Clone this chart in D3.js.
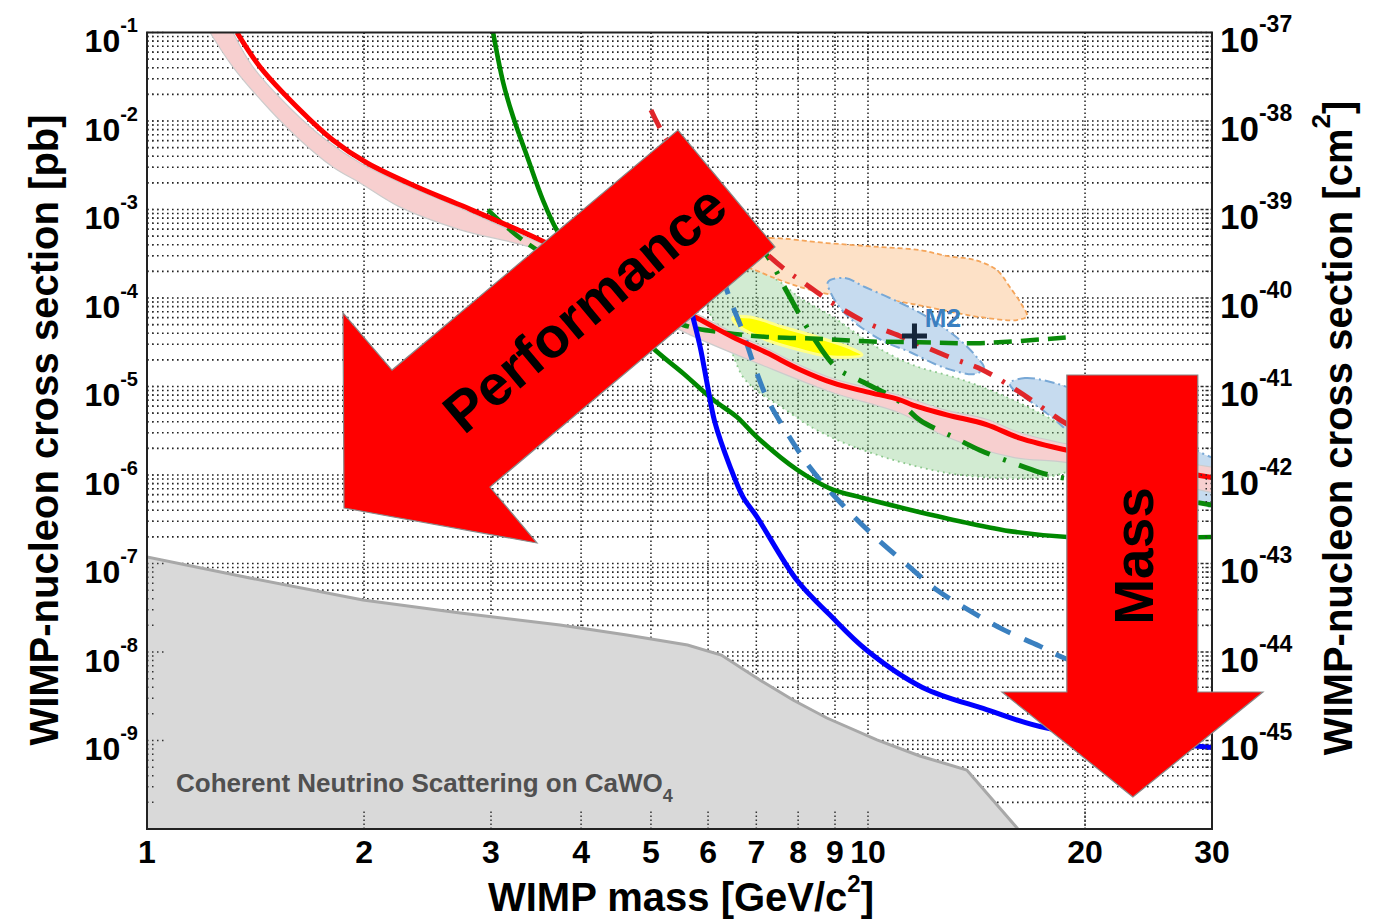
<!DOCTYPE html>
<html><head><meta charset="utf-8">
<script src="https://cdn.jsdelivr.net/npm/d3@7"></script>
<style>
body{margin:0;background:#fff}
text{font-family:"Liberation Sans",Arial,Helvetica,sans-serif;font-weight:bold}
</style>
</head><body>
<svg id="c" width="1381" height="923"></svg>
<script>
// ---------------- DATA (mass in GeV/c^2, log10 of cross section in pb) ----------------
const xTickLabels=[1,2,3,4,5,6,7,8,9,10,20,30];
const yLeftExp=[-1,-2,-3,-4,-5,-6,-7,-8,-9];
const yRightExp=[-37,-38,-39,-40,-41,-42,-43,-44,-45];

const redLimit=[[1.333,-1.0],[1.435,-1.39],[1.63,-1.876],[1.81,-2.215],[2.02,-2.475],[2.37,-2.746],[2.72,-2.95],[3.51,-3.345],[4.5,-3.78],[5.79,-4.226],[6.49,-4.44],[7.24,-4.62],[8.05,-4.81],[8.94,-4.96],[9.96,-5.06],[11.07,-5.15],[11.54,-5.21],[12.86,-5.32],[14.6,-5.43],[16.2,-5.58],[18.9,-5.72],[30,-6.03]];
const bandUpper=[[1.316,-1.0],[1.403,-1.39],[1.589,-1.876],[1.771,-2.215],[1.975,-2.475],[2.316,-2.746],[2.657,-2.949],[3.508,-3.379],[4.5,-3.74],[5.79,-4.18],[6.49,-4.39],[7.24,-4.57],[8.05,-4.76],[8.94,-4.91],[9.96,-5.01],[11.07,-5.10],[12.86,-5.27],[14.6,-5.37],[16.2,-5.52],[18.9,-5.65],[30,-5.91]];
const bandLower=[[1.223,-1.0],[1.316,-1.39],[1.481,-1.876],[1.63,-2.215],[1.81,-2.52],[1.975,-2.70],[2.24,-2.97],[2.72,-3.23],[3.56,-3.48],[4.5,-3.96],[5.48,-4.36],[7.24,-4.78],[8.94,-5.07],[11.07,-5.30],[12.86,-5.57],[15.9,-5.80],[18.9,-5.86],[30,-6.20]];
const greenLimit=[[3.02,-1.0],[3.12,-1.57],[3.22,-1.955],[3.37,-2.41],[3.54,-2.89],[3.70,-3.23],[4.25,-3.95],[5.03,-4.565],[5.54,-4.85],[6.10,-5.15],[6.58,-5.345],[7.01,-5.57],[7.97,-5.94],[8.85,-6.15],[9.84,-6.26],[11.54,-6.40],[13.54,-6.53],[15.9,-6.64],[18.9,-6.70],[30,-6.70]];
const greenDashed=[[2.97,-3.005],[3.32,-3.345],[4.25,-3.88],[5.54,-4.305],[6.37,-4.395],[7.24,-4.44],[8.50,-4.46],[9.96,-4.49],[11.8,-4.50],[14.3,-4.51],[19.2,-4.44]];
const greenDashDot=[[6.90,-3.29],[7.31,-3.57],[7.72,-3.93],[8.39,-4.44],[9.05,-4.79],[9.84,-4.95],[10.97,-5.15],[11.8,-5.38],[13.12,-5.57],[14.3,-5.72],[15.9,-5.865],[17.3,-5.97],[18.3,-6.02],[30,-6.34]];
const redDashDot=[[5.0,-1.876],[5.23,-2.18],[5.85,-2.70],[6.64,-3.21],[7.62,-3.66],[8.12,-3.82],[8.94,-4.06],[9.96,-4.28],[11.07,-4.43],[12.99,-4.67],[14.4,-4.81],[15.99,-5.03],[17.9,-5.30],[18.75,-5.41],[24,-5.8]];
const blueLimit=[[5.66,-4.08],[5.85,-4.55],[5.98,-4.96],[6.13,-5.40],[6.44,-5.91],[6.71,-6.25],[7.01,-6.47],[7.97,-7.19],[8.85,-7.58],[9.96,-7.98],[11.9,-8.40],[14.6,-8.65],[17.7,-8.86],[30,-9.08]];
const blueDashed=[[6.27,-3.74],[6.44,-4.02],[6.69,-4.36],[6.97,-4.79],[7.26,-5.15],[7.72,-5.525],[8.30,-5.91],[9.08,-6.28],[10.09,-6.655],[11.2,-6.98],[12.46,-7.30],[13.89,-7.54],[15.43,-7.75],[17.26,-7.93],[18.6,-8.06],[30,-8.64]];
const neutrinoFloor=[[1,-6.927],[1.389,-7.164],[1.993,-7.412],[2.72,-7.559],[3.74,-7.695],[4.63,-7.808],[5.62,-7.921],[6.26,-8.034],[7.08,-8.316],[7.87,-8.542],[8.77,-8.746],[10.29,-8.994],[11.80,-9.175],[13.71,-9.333],[16.14,-10.0]];
const orangeRegion=[[6.64,-3.356],[7.31,-3.322],[8.77,-3.379],[10.39,-3.424],[11.80,-3.458],[12.87,-3.525],[14.07,-3.571],[15.09,-3.684],[15.73,-3.876],[16.35,-4.079],[16.61,-4.203],[16.09,-4.249],[14.30,-4.215],[12.87,-4.147],[11.54,-4.068],[10.39,-4.011],[9.44,-4.0],[8.05,-3.876],[7.08,-3.706],[6.64,-3.593]];
const m2Region=[[8.80,-3.819],[9.29,-3.774],[9.90,-3.876],[10.72,-4.0],[11.61,-4.136],[12.58,-4.305],[13.41,-4.475],[14.07,-4.644],[14.48,-4.791],[14.07,-4.859],[13.20,-4.825],[12.38,-4.746],[11.43,-4.610],[10.56,-4.497],[9.81,-4.339],[9.20,-4.136],[8.88,-3.944]];
const m1Region=[[15.73,-4.960],[16.51,-4.904],[17.70,-4.938],[19.05,-5.017],[21.65,-5.209],[25.4,-5.492],[28.86,-5.740],[32,-5.95],[32,-6.40],[28.86,-6.316],[24.6,-6.034],[20.97,-5.718],[18.87,-5.492],[18.05,-5.356],[16.77,-5.164],[15.88,-5.028]];
const greenRegion=[[6.33,-3.514],[6.75,-3.605],[7.55,-3.819],[8.05,-4.0],[8.94,-4.215],[9.74,-4.429],[10.39,-4.576],[11.54,-4.757],[13.54,-4.927],[15.9,-5.153],[18.05,-5.379],[20.97,-5.661],[21.3,-5.808],[18.87,-5.966],[17.70,-6.023],[15.09,-6.034],[12.87,-5.977],[10.97,-5.842],[9.35,-5.650],[8.39,-5.469],[7.55,-5.220],[7.08,-5.073],[6.71,-4.893],[6.45,-4.588],[6.10,-4.249],[5.94,-4.023],[6.07,-3.740]];
const yellowRegion=[[6.49,-4.226],[6.86,-4.215],[7.62,-4.328],[8.50,-4.441],[9.44,-4.565],[9.81,-4.644],[8.94,-4.667],[8.05,-4.588],[7.24,-4.475],[6.64,-4.328]];
const m2Point=[11.6,-4.43];
const m2LabelPos=[11.99,-4.328];
const neutrinoLabelPos=[1.097,-9.582];
const perfArrow=[[1.876,-6.373],[3.474,-6.768],[2.99,-6.136],[7.43,-3.424],[5.45,-2.102],[2.187,-4.814],[1.870,-4.169]];
const perfLabelPos=[4.04,-4.113];
const massArrow=[[18.87,-4.870],[28.67,-4.870],[28.67,-8.452],[35.3,-8.452],[23.3,-9.638],[15.34,-8.452],[18.87,-8.452]];
const massLabelPos=[23.3,-6.915];

// ---------------- SCALES ----------------
const L=147,R=1212,T=32.5,B=829;
const x=d3.scaleLog().domain([1,30]).range([L,R]);
const y=d3.scaleLog().domain([1e-10,1e-1]).range([B,T]);
const yR=d3.scaleLog().domain([1e-46,1e-37]).range([B,T]);
const px=d=>x(d[0]), py=d=>y(Math.pow(10,d[1]));

const svg=d3.select('#c');
svg.append('rect').attr('width',1381).attr('height',923).attr('fill','#fff');
svg.append('defs').append('clipPath').attr('id','clip').append('rect')
  .attr('x',L).attr('y',T).attr('width',R-L).attr('height',B-T);
const plot=svg.append('g').attr('clip-path','url(#clip)');

// grid
const yTicks=y.ticks().filter(v=>y(v)>T+0.5&&y(v)<B-0.5);
const xTicks=x.ticks().filter(v=>x(v)>L+0.5&&x(v)<R-0.5);
plot.append('g').selectAll('line').data(yTicks).join('line')
  .attr('x1',L).attr('x2',R).attr('y1',d=>y(d)).attr('y2',d=>y(d))
  .attr('stroke','#222').attr('stroke-width',1.6).attr('stroke-dasharray','1.6,3.4');
plot.append('g').selectAll('line').data(xTicks).join('line')
  .attr('y1',T).attr('y2',B).attr('x1',d=>x(d)).attr('x2',d=>x(d))
  .attr('stroke','#222').attr('stroke-width',1.5).attr('stroke-dasharray','1.5,2.5');

const closed=d3.line().x(px).y(py).curve(d3.curveCatmullRomClosed.alpha(0.5));
const open=d3.line().x(px).y(py).curve(d3.curveCatmullRom.alpha(0.5));
const lin=d3.line().x(px).y(py);

// regions
plot.append('path').attr('d',closed(greenRegion)).attr('fill','#8fce8f').attr('fill-opacity',0.4)
  .attr('stroke','#8cc88c').attr('stroke-width',1.8).attr('stroke-dasharray','1.8,4');
plot.append('path').attr('d',closed(orangeRegion)).attr('fill','#fde1c7')
  .attr('stroke','#f5a55a').attr('stroke-width',1.8).attr('stroke-dasharray','5,3');
plot.append('path').attr('d',closed(m2Region)).attr('fill','#c6dbef')
  .attr('stroke','#78a8d6').attr('stroke-width',2).attr('stroke-dasharray','10,4,2,4');
plot.append('path').attr('d',closed(m1Region)).attr('fill','#c6dbef')
  .attr('stroke','#78a8d6').attr('stroke-width',2).attr('stroke-dasharray','10,4,2,4');
// band
const bandPath=open(bandUpper)+'L'+open(bandLower.slice().reverse()).slice(1)+'Z';
plot.append('path').attr('d',bandPath).attr('fill','#f7cfcf').attr('stroke','#cccccc').attr('stroke-width',1.2);
plot.append('path').attr('d',closed(yellowRegion)).attr('fill','#ffff00')
  .attr('stroke','#ffff88').attr('stroke-width',3);

// neutrino floor
const nf=neutrinoFloor.concat([[1,-10]]);
plot.append('path').attr('d',lin(nf)+'Z').attr('fill','#d9d9d9');
plot.append('path').attr('d',lin(neutrinoFloor)).attr('fill','none').attr('stroke','#a8a8a8').attr('stroke-width',3);

// ticks (dotted like the grid)
const tg=svg.append('g').attr('stroke','#333').attr('stroke-width',1.5).attr('stroke-dasharray','1.5,3.5');
const yAll=y.ticks();
const isMaj=v=>Math.abs(Math.log10(v)-Math.round(Math.log10(v)))<1e-6;
yAll.forEach(v=>{const len=isMaj(v)?20:8;
  tg.append('line').attr('x1',L).attr('x2',L+len).attr('y1',y(v)).attr('y2',y(v));
  tg.append('line').attr('x1',R).attr('x2',R-len).attr('y1',y(v)).attr('y2',y(v));});
x.ticks().forEach(v=>{
  tg.append('line').attr('x1',x(v)).attr('x2',x(v)).attr('y1',B).attr('y2',B-20).attr('stroke-dasharray','1.5,2.5');
  tg.append('line').attr('x1',x(v)).attr('x2',x(v)).attr('y1',T).attr('y2',T+20).attr('stroke-dasharray','1.5,2.5');});

// curves
const drawLine=(data,color,w,dash)=>{const p=plot.append('path').attr('d',open(data)).attr('fill','none')
  .attr('stroke',color).attr('stroke-width',w); if(dash)p.attr('stroke-dasharray',dash); return p;};
drawLine(blueDashed,'#3a80c0',5,'20,15');
drawLine(greenDashDot,'#0b8a0b',5,'30,14,3,14');
drawLine(redDashDot,'#e0262a',5,'20,12,3,12');
drawLine(greenDashed,'#0b8a0b',4.5,'18,9');
drawLine(greenLimit,'#008800',4.6);
drawLine(redLimit,'#ff0000',5);
drawLine(blueLimit,'#0000ff',5);

// M2 marker
const cx=x(m2Point[0]), cy=y(Math.pow(10,m2Point[1]));
plot.append('path').attr('d',`M${cx-12.5},${cy}H${cx+12.5}M${cx},${cy-12.5}V${cy+12.5}`)
  .attr('stroke','#15263b').attr('stroke-width',5);
svg.append('text').attr('x',px(m2LabelPos)).attr('y',py(m2LabelPos)).attr('font-size',26)
  .attr('fill','#3a7fc0').text('M2');

// neutrino label
const nl=svg.append('text').attr('x',px(neutrinoLabelPos)).attr('y',py(neutrinoLabelPos))
  .attr('font-size',26).attr('fill','#505050');
nl.append('tspan').text('Coherent Neutrino Scattering on CaWO');
nl.append('tspan').attr('dy',10).attr('font-size',18).text('4');

// frame
svg.append('rect').attr('x',L).attr('y',T).attr('width',R-L).attr('height',B-T)
  .attr('fill','none').attr('stroke','#222').attr('stroke-width',2);

// arrows
svg.append('path').attr('d',lin(perfArrow)+'Z').attr('fill','#ff0000').attr('stroke','#888').attr('stroke-width',1.2);
svg.append('path').attr('d',lin(massArrow)+'Z').attr('fill','#ff0000').attr('stroke','#888').attr('stroke-width',1.2);
svg.append('text').attr('transform',`translate(${px(perfLabelPos)},${py(perfLabelPos)}) rotate(-40)`)
  .attr('text-anchor','middle').attr('dy','0.36em').attr('font-size',57).attr('fill','#000').text('Performance');
svg.append('text').attr('transform',`translate(${px(massLabelPos)},${py(massLabelPos)}) rotate(-90)`)
  .attr('text-anchor','middle').attr('dy','0.36em').attr('font-size',55).attr('fill','#000').text('Mass');

// axis labels
xTickLabels.forEach(v=>{
  svg.append('text').attr('x',x(v)).attr('y',863).attr('text-anchor','middle').attr('font-size',32).text(v);});
yLeftExp.forEach(e=>{
  const t=svg.append('text').attr('x',138).attr('y',y(Math.pow(10,e))+19.5).attr('text-anchor','end').attr('font-size',32);
  t.append('tspan').text('10');
  t.append('tspan').attr('dy',-20).attr('font-size',20).text(e);});
yRightExp.forEach(e=>{
  const t=svg.append('text').attr('x',1220).attr('y',yR(Math.pow(10,e))+19.5).attr('font-size',35);
  t.append('tspan').text('10');
  t.append('tspan').attr('dy',-20).attr('font-size',23).text(e);});

// titles
const xt=svg.append('text').attr('x',681).attr('y',911).attr('text-anchor','middle').attr('font-size',40);
xt.append('tspan').text('WIMP mass [GeV/c');
xt.append('tspan').attr('dy',-19).attr('font-size',24).text('2');
xt.append('tspan').attr('dy',19).text(']');
svg.append('text').attr('transform','translate(58,430) rotate(-90)').attr('text-anchor','middle')
  .attr('font-size',40).text('WIMP-nucleon cross section [pb]');
const yt=svg.append('text').attr('transform','translate(1352,428) rotate(-90)').attr('text-anchor','middle').attr('font-size',40);
yt.append('tspan').text('WIMP-nucleon cross section [cm');
yt.append('tspan').attr('dy',-22).attr('font-size',26).text('2');
yt.append('tspan').attr('dy',22).text(']');
</script>
</body></html>
